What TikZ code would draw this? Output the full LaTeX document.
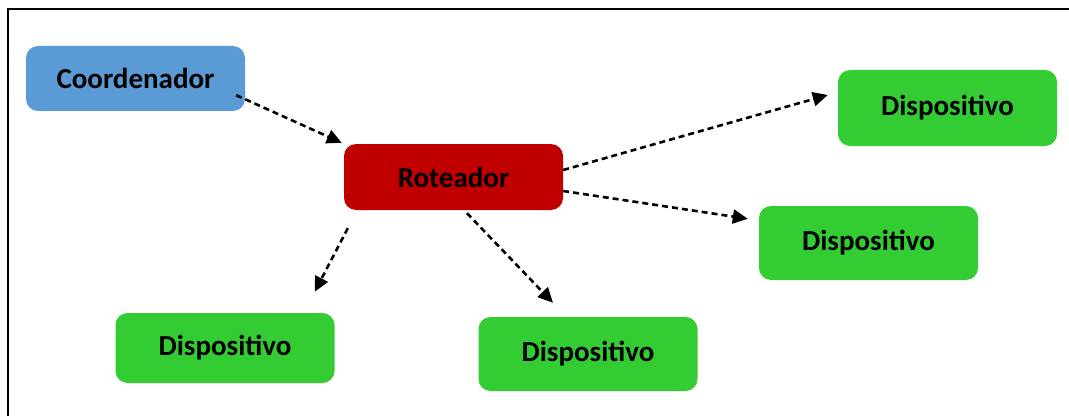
\documentclass[tikz,border=0pt]{standalone}
\usepackage{fontspec}
\setmainfont{Carlito}
\usetikzlibrary{arrows.meta,calc}
\definecolor{coordblue}{HTML}{5B9BD5}
\definecolor{rotred}{HTML}{C00000}
\definecolor{devgreen}{HTML}{33CC33}
\tikzset{
	box/.style={rounded corners=12pt, minimum width=219pt, inner sep=0pt,
		font=\fontsize{29}{33}\selectfont\bfseries, text=black},
	link/.style={dashed, dash pattern=on 6pt off 4pt, line width=2.6pt,
		-{Triangle[length=15pt,width=14pt]}}
}
\begin{document}
\begin{tikzpicture}
			\useasboundingbox (0,0) rectangle (1069pt,416pt);
			\draw[line width=2pt] (8pt,0) -- (8pt,407pt) -- (1069pt,407pt);
			\node[box, fill=coordblue, minimum height=65pt] (coord) at (135.5pt,337.5pt) {Coordenador};
			\node[box, fill=rotred, minimum height=66pt] (rot) at (453.5pt,239pt) {Roteador};
			\node[box, fill=devgreen, minimum height=76pt] (devA) at (947.5pt,308pt) {Dispositivo};
			\node[box, fill=devgreen, minimum height=74pt] (devB) at (868.5pt,173pt) {Dispositivo};
			\node[box, fill=devgreen, minimum height=70pt] (devC) at (225pt,68pt) {Dispositivo};
			\node[box, fill=devgreen, minimum height=74pt] (devD) at (588pt,62pt) {Dispositivo};
			\draw[link] ($(coord.south east)+(-9pt,16pt)$) -- ($(rot.north west)+(-2pt,1pt)$);
			\draw[link] ($(rot.east)+(0,7pt)$) -- ($(devA.west)+(-10pt,13pt)$);
			\draw[link] ($(rot.east)+(0,-14pt)$) -- ($(devB.north west)+(-11pt,-13pt)$);
			\draw[link] ($(rot.south west)+(4pt,-18pt)$) -- ($(devC.north east)+(-20pt,21pt)$);
			\draw[link] ($(rot.south)+(13.5pt,-3pt)$) -- ($(devD.north)+(-35pt,14pt)$);
		\end{tikzpicture}
\end{document}
